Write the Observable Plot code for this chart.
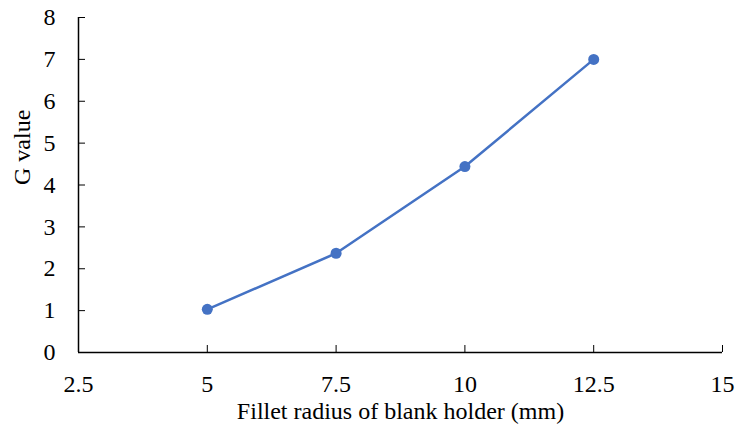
<!DOCTYPE html>
<html>
<head>
<meta charset="utf-8">
<script src="https://cdn.jsdelivr.net/npm/d3@7"></script>
<script src="https://cdn.jsdelivr.net/npm/@observablehq/plot@0.6"></script>
<style>
  html, body { margin: 0; padding: 0; background: #fff; }
  #chart svg { display: block; }
  #chart svg text { font-family: 'Liberation Serif', 'Times New Roman', serif !important; }
</style>
</head>
<body>
<div id="chart"></div>
<script>
const radius = [5, 7.5, 10, 12.5];
const gValue = [1.03, 2.37, 4.44, 7.0];
const xTicks = [2.5, 5, 7.5, 10, 12.5, 15];
const yTicks = [0, 1, 2, 3, 4, 5, 6, 7, 8];
const xLabel = "Fillet radius of blank holder (mm)";
const yLabel = "G value";

const data = radius.map((r, i) => ({r, g: gValue[i]}));
const color = "#4472C4";
const serif = "'Liberation Serif', 'Times New Roman', serif";
const fs = 24;

const chart = Plot.plot({
  width: 735,
  height: 434,
  marginLeft: 78,
  marginRight: 13,
  marginTop: 17,
  marginBottom: 82,
  style: {fontFamily: serif, fontSize: fs + "px", color: "#000", background: "#fff"},
  x: {domain: [2.5, 15]},
  y: {domain: [0, 8]},
  marks: [
    Plot.axisX({ticks: xTicks, tickFormat: d => String(d), tickSize: -7, tickPadding: 29, label: null, fontSize: fs, fontFamily: serif}),
    Plot.axisY({ticks: yTicks, tickFormat: d => String(d), tickSize: -7, tickPadding: 30, label: null, fontSize: fs, fontFamily: serif}),
    Plot.ruleX([2.5], {stroke: "#000", strokeWidth: 1.5}),
    Plot.ruleY([0], {stroke: "#000", strokeWidth: 1.5}),
    Plot.line(data, {x: "r", y: "g", stroke: color, strokeWidth: 2.5}),
    Plot.dot(data, {x: "r", y: "g", r: 5.5, fill: color, stroke: null}),
    Plot.text([xLabel], {frameAnchor: "bottom", lineAnchor: "middle", dy: 59, fontSize: fs, fontFamily: serif, fill: "#000"}),
    Plot.text([yLabel], {frameAnchor: "left", dx: -56, rotate: -90, fontSize: fs, fontFamily: serif, fill: "#000"})
  ]
});
document.getElementById("chart").appendChild(chart);
</script>
</body>
</html>
